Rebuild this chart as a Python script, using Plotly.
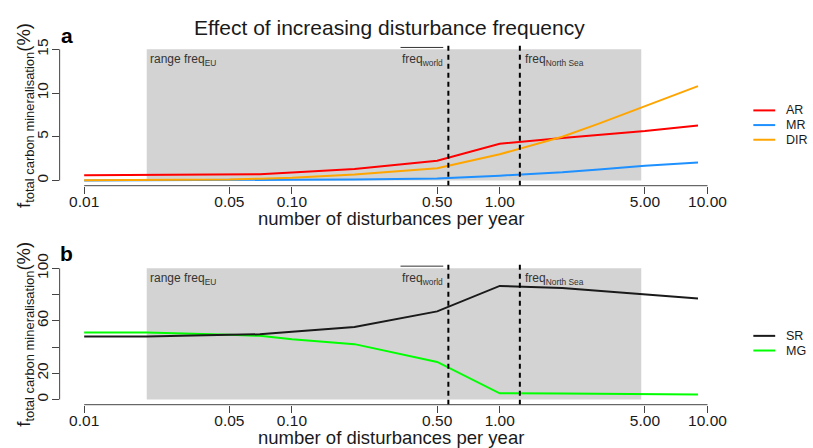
import math
import plotly.graph_objects as go

W, H = 813, 448
FONT = "Liberation Sans, Arial, sans-serif"

# ---------------- data ----------------
freq = [0.01, 0.02, 0.05, 0.07, 0.1, 0.2, 0.5, 1, 2, 3, 5, 9]
AR = [0.6, 0.67, 0.7, 0.72, 0.9, 1.3, 2.25, 4.2, 4.85, 5.2, 5.65, 6.3]
MR = [0.0, 0.0, 0.03, 0.05, 0.08, 0.12, 0.22, 0.55, 0.93, 1.25, 1.68, 2.05]
DIR = [0.03, 0.03, 0.1, 0.2, 0.3, 0.67, 1.4, 3.0, 5.0, 6.5, 8.5, 10.8]
SR = [48.0, 48.0, 49.3, 49.7, 51.7, 55.2, 67.2, 86.6, 85.0, 83.0, 80.3, 77.1]
MG = [51.0, 51.0, 49.3, 48.5, 46.0, 42.2, 28.6, 4.7, 4.6, 4.4, 4.2, 3.7]

names_a = ["AR", "MR", "DIR"]
colors_a = ["#FF0000", "#1E90FF", "#FFA500"]
names_b = ["SR", "MG"]
colors_b = ["#1A1A1A", "#00FF00"]

x_tickvals = [0.01, 0.05, 0.1, 0.5, 1, 5, 10]
x_ticktext = ["0.01", "0.05", "0.10", "0.50", "1.00", "5.00", "10.00"]
ya_tickvals = [0, 5, 10, 15]
ya_ticktext = ["0", "5", "10", "15"]
yb_tickvals = [0, 20, 40, 60, 80, 100]
yb_ticktext = ["0", "20", "", "60", "", "100"]
ylim_a = [0, 15]
ylim_b = [0, 100]

eu_range = [0.02, 4.8]
freq_world = 0.566
freq_north_sea = 1.25

title = "Effect of increasing disturbance frequency"
xlab = "number of disturbances per year"
ylab = "f<sub>total carbon mineralisation</sub>(%)"

# ---------------- helpers ----------------
def px(xp):
    return xp / W

def py(yp):
    return 1 - yp / H

def r_range(lo, hi):
    d = (hi - lo) * 0.04
    return [lo - d, hi + d]

xr = r_range(math.log10(min(freq)), math.log10(max(freq)))
yra = r_range(*ylim_a)
yrb = r_range(*ylim_b)

AX_COL = "#444444"
TXT_COL = "#1A1A1A"
TICKFONT = dict(family=FONT, size=15.5, color=TXT_COL)

fig = go.Figure()

for nm, vals, col in zip(names_a, [AR, MR, DIR], colors_a):
    fig.add_trace(go.Scatter(x=freq, y=vals, mode="lines", name=nm,
                             line=dict(color=col, width=2), showlegend=False,
                             xaxis="x", yaxis="y"))
for nm, vals, col in zip(names_b[::-1], [MG, SR], colors_b[::-1]):
    fig.add_trace(go.Scatter(x=freq, y=vals, mode="lines", name=nm,
                             line=dict(color=col, width=2), showlegend=False,
                             xaxis="x2", yaxis="y2"))

xdom = [px(60), px(727)]
xcommon = dict(type="log", range=xr, domain=xdom, showgrid=False, zeroline=False,
               showline=False, ticks="outside", ticklen=7, tickwidth=1,
               tickcolor=AX_COL, tickvals=x_tickvals, ticktext=x_ticktext,
               tickfont=TICKFONT, ticklabelstandoff=-5)
ycommon = dict(showgrid=False, zeroline=False, showline=False, ticks="outside",
               ticklen=7, tickwidth=1, tickcolor=AX_COL, tickangle=-90,
               tickfont=TICKFONT, ticklabelstandoff=-3)

fig.update_layout(
    width=W, height=H, margin=dict(l=0, r=0, t=0, b=0),
    paper_bgcolor="white", plot_bgcolor="white",
    xaxis=dict(**xcommon, anchor="y"),
    yaxis=dict(**ycommon, range=yra, domain=[py(179.7), py(34.9)],
               tickvals=ya_tickvals, ticktext=ya_ticktext, anchor="x"),
    xaxis2=dict(**xcommon, anchor="y2"),
    yaxis2=dict(**ycommon, range=yrb, domain=[py(403.7), py(258.9)],
                tickvals=yb_tickvals, ticktext=yb_ticktext, anchor="x2"),
)

shapes = []
annotations = []

panels = [("x", "y", ylim_a, "a", 0), ("x2", "y2", ylim_b, "b", 1)]
for xa, ya, ylim, lab, i in panels:
    # shaded EU range
    shapes.append(dict(type="rect", xref=xa, yref=ya, x0=eu_range[0], x1=eu_range[1],
                       y0=ylim[0], y1=ylim[1], fillcolor="#D3D3D3",
                       line=dict(width=0), layer="below"))
    # dashed reference lines
    for fv in (freq_world, freq_north_sea):
        shapes.append(dict(type="line", xref=xa, yref=ya + " domain", x0=fv, x1=fv,
                           y0=0, y1=1, line=dict(color="black", width=2, dash="5px,4px")))
    # R-style axis lines (only between first and last tick)
    shapes.append(dict(type="line", xref=xa, yref=ya + " domain",
                       x0=x_tickvals[0], x1=x_tickvals[-1], y0=0, y1=0,
                       line=dict(color=AX_COL, width=1)))
    shapes.append(dict(type="line", xref=xa + " domain", yref=ya,
                       x0=0, x1=0, y0=ylim[0], y1=ylim[1],
                       line=dict(color=AX_COL, width=1)))
    # labels in the shaded area
    annotations.append(dict(xref=xa, yref=ya, x=math.log10(eu_range[0]), y=ylim[1],
                            xanchor="left", yanchor="top", xshift=1, yshift=-1,
                            text="range freq<sub>EU</sub>", showarrow=False,
                            font=dict(family=FONT, size=12, color="#333333")))
    annotations.append(dict(xref=xa, yref=ya, x=math.log10(freq_world), y=ylim[1],
                            xanchor="right", yanchor="top", xshift=-3, yshift=-1,
                            text="freq<sub>world</sub>", showarrow=False,
                            font=dict(family=FONT, size=12, color="#333333")))
    annotations.append(dict(xref=xa, yref=ya, x=math.log10(freq_north_sea), y=ylim[1],
                            xanchor="left", yanchor="top", xshift=3, yshift=-1,
                            text="freq<sub>North Sea</sub>", showarrow=False,
                            font=dict(family=FONT, size=12, color="#333333")))
    # overline over freq_world (mean)
    ytop = 38.3 if i == 0 else 262.0
    shapes.append(dict(type="line", xref="paper", yref="paper", x0=px(403), x1=px(446),
                       y0=py(ytop), y1=py(ytop), line=dict(color="#333333", width=1)))
    # x axis title
    annotations.append(dict(xref="paper", yref="paper", x=px(393.5),
                            y=py(213 if i == 0 else 437), xanchor="center", yanchor="middle",
                            text=xlab, showarrow=False,
                            font=dict(family=FONT, size=18.5, color=TXT_COL)))
    # y axis title
    annotations.append(dict(xref="paper", yref="paper", x=px(25),
                            y=py(107.5 if i == 0 else 331.3), xanchor="center", yanchor="middle",
                            text=ylab, textangle=-90, showarrow=False,
                            font=dict(family=FONT, size=18.5, color=TXT_COL)))
    # panel letter
    annotations.append(dict(xref="paper", yref="paper", x=px(67),
                            y=py(26 if i == 0 else 249), xanchor="center", yanchor="middle",
                            text="<b>%s</b>" % lab, showarrow=False,
                            font=dict(family=FONT, size=21, color="black")))

# custom legends (R-style, line + label)
for names, cols, y0 in [(names_a, colors_a, 102.7), (names_b, colors_b, 333.3)]:
    for k, (nm, col) in enumerate(zip(names, cols)):
        yy = y0 + 15 * k
        shapes.append(dict(type="line", xref="paper", yref="paper", x0=px(758), x1=px(780),
                           y0=py(yy), y1=py(yy), line=dict(color=col, width=2)))
        annotations.append(dict(xref="paper", yref="paper", x=px(789), y=py(yy),
                                xanchor="left", yanchor="middle", text=nm, showarrow=False,
                                font=dict(family=FONT, size=12.5, color=TXT_COL)))

# main title
annotations.append(dict(xref="paper", yref="paper", x=px(392), y=py(18),
                        xanchor="center", yanchor="middle", text=title, showarrow=False,
                        font=dict(family=FONT, size=21, color=TXT_COL)))

fig.update_layout(shapes=shapes, annotations=annotations)
fig.write_html("out.html")
